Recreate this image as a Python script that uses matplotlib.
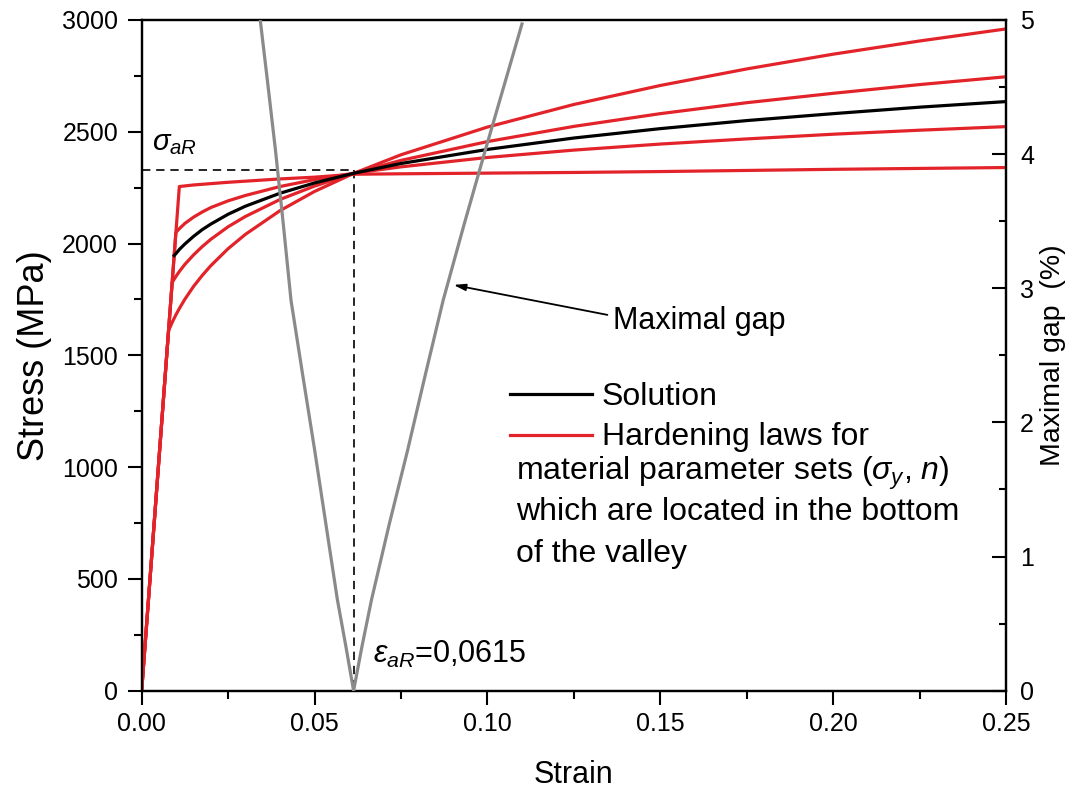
import matplotlib
matplotlib.use("Agg")
import matplotlib.pyplot as plt
from matplotlib.lines import Line2D

plt.rcParams['font.family'] = ['Liberation Sans', 'DejaVu Sans']
plt.rcParams['mathtext.fontset'] = 'custom'
plt.rcParams['mathtext.rm'] = 'Liberation Sans'
plt.rcParams['mathtext.it'] = 'Liberation Sans:italic'
plt.rcParams['mathtext.bf'] = 'Liberation Sans:bold'

# ---------------- data ----------------
strain_top = [0, 0.00778, 0.009, 0.01, 0.011, 0.0125, 0.015, 0.0175, 0.02, 0.025, 0.03, 0.04, 0.05,
              0.0615, 0.075, 0.1, 0.125, 0.15, 0.175, 0.2, 0.225, 0.25]
stress_top = [0, 1611, 1653, 1684, 1712, 1751, 1808, 1857, 1901, 1977, 2041, 2147, 2233,
              2315, 2397, 2521, 2622, 2707, 2781, 2847, 2906, 2960]

strain_h2 = [0, 0.00882, 0.01, 0.011, 0.0125, 0.015, 0.0175, 0.02, 0.025, 0.03, 0.04, 0.05,
             0.0615, 0.075, 0.1, 0.125, 0.15, 0.175, 0.2, 0.225, 0.25]
stress_h2 = [0, 1826, 1855, 1877, 1907, 1949, 1986, 2019, 2075, 2121, 2197, 2257,
             2315, 2372, 2456, 2524, 2581, 2630, 2672, 2711, 2746]

strain_h3 = [0, 0.0099, 0.011, 0.0125, 0.015, 0.0175, 0.02, 0.025, 0.03, 0.04, 0.05,
             0.0615, 0.075, 0.1, 0.125, 0.15, 0.175, 0.2, 0.225, 0.25]
stress_h3 = [0, 2050, 2068, 2090, 2118, 2141, 2161, 2191, 2215, 2255, 2286,
             2315, 2343, 2385, 2418, 2445, 2468, 2489, 2507, 2523]

strain_h4 = [0, 0.0109, 0.015, 0.02, 0.025, 0.03, 0.04, 0.05,
             0.0615, 0.075, 0.1, 0.125, 0.15, 0.175, 0.2, 0.225, 0.25]
stress_h4 = [0, 2255, 2262, 2268, 2274, 2279, 2289, 2297,
             2310, 2312, 2315, 2318, 2322, 2327, 2332, 2336, 2340]

strain_sol = [0.0094, 0.011, 0.0125, 0.015, 0.0175, 0.02, 0.025, 0.03, 0.04, 0.05,
              0.0615, 0.075, 0.1, 0.125, 0.15, 0.175, 0.2, 0.225, 0.25]
stress_sol = [1946, 1975, 1998, 2032, 2062, 2087, 2131, 2167, 2225, 2271,
              2315, 2358, 2421, 2472, 2514, 2550, 2581, 2610, 2635]

gap_left_strain = [0.0343, 0.0365, 0.0387, 0.0410, 0.0432, 0.0466, 0.0500, 0.0533, 0.0566, 0.0590, 0.0613]
gap_left = [5.0, 4.52, 4.03, 3.47, 2.91, 2.35, 1.80, 1.24, 0.68, 0.34, 0.0]
gap_right_strain = [0.0613, 0.0638, 0.0665, 0.0716, 0.0769, 0.0820, 0.0872, 0.0932, 0.0994, 0.1047, 0.1100]
gap_right = [0.0, 0.34, 0.68, 1.24, 1.79, 2.35, 2.91, 3.47, 4.03, 4.50, 4.97]

eps_aR = 0.0615
sigma_aR = 2330

red = '#e3232a'
gray = '#8a8a8a'

fig = plt.figure(figsize=(10.83, 7.96), dpi=100)
ax = fig.add_axes([0.1308, 0.1323, 0.9289 - 0.1308, 0.9749 - 0.1323])

for s, v in [(strain_top, stress_top), (strain_h2, stress_h2),
             (strain_h3, stress_h3), (strain_h4, stress_h4)]:
    ax.plot(s, v, color=red, lw=2.3, solid_joinstyle='round', zorder=3)
ax.plot(strain_sol, stress_sol, color='black', lw=2.3, solid_joinstyle='round', zorder=4)

# dashed reference lines
ax.plot([0, eps_aR], [sigma_aR, sigma_aR], color='black', lw=1.2,
        linestyle=(0, (5, 3.5)), zorder=2)
ax.plot([eps_aR, eps_aR], [sigma_aR, 0], color='black', lw=1.2,
        linestyle=(0, (5, 3.5)), zorder=2)

ax.set_xlim(0, 0.25)
ax.set_ylim(0, 3000)
ax.set_xticks([0, 0.05, 0.10, 0.15, 0.20, 0.25])
ax.set_xticklabels(['0.00', '0.05', '0.10', '0.15', '0.20', '0.25'])
ax.set_xticks([0.025, 0.075, 0.125, 0.175, 0.225], minor=True)
ax.set_yticks([0, 500, 1000, 1500, 2000, 2500, 3000])
ax.set_yticks([250, 750, 1250, 1750, 2250, 2750], minor=True)
ax.tick_params(axis='both', which='major', direction='out', length=10, width=1.5,
               labelsize=18, pad=6)
ax.tick_params(axis='both', which='minor', direction='out', length=6, width=1.5)
ax.tick_params(axis='x', which='major', pad=5)
ax.tick_params(axis='y', which='major', pad=7)
for sp in ax.spines.values():
    sp.set_linewidth(1.6)

ax.set_xlabel('Strain', fontsize=22)
ax.xaxis.set_label_coords(0.5, -0.103)
ax.set_ylabel('Stress (MPa)', fontsize=26)
ax.yaxis.set_label_coords(-0.104, 0.5)

# right axis: maximal gap
ax2 = ax.twinx()
ax2.plot(gap_left_strain, gap_left, color=gray, lw=2.3, solid_joinstyle='round', zorder=3)
ax2.plot(gap_right_strain, gap_right, color=gray, lw=2.3, solid_joinstyle='round', zorder=3)
ax2.set_ylim(0, 5)
ax2.set_yticks([0, 1, 2, 3, 4, 5])
ax2.set_yticks([0.5, 1.5, 2.5, 3.5, 4.5], minor=True)
ax2.tick_params(axis='y', which='major', direction='in', length=10, width=1.5,
                labelsize=18, pad=10)
ax2.tick_params(axis='y', which='minor', direction='in', length=5, width=1.5)
for sp in ax2.spines.values():
    sp.set_linewidth(1.6)
ax2.set_ylabel('Maximal gap  (%)', fontsize=20.5)
ax2.yaxis.set_label_coords(1.039, 0.5)

# annotations
ax.text(0.003, 2449, r'$\sigma_{aR}$', fontsize=21, ha='left', va='center')
ax.text(0.067, 124, r'$\varepsilon_{aR}$=0,0615', fontsize=22, ha='left', va='baseline')

ax.annotate('', xy=(0.0902, 1815), xytext=(0.1347, 1681),
            arrowprops=dict(arrowstyle='-|>,head_length=0.7,head_width=0.2',
                            color='black', lw=1.3, shrinkA=0, shrinkB=0))
ax.text(0.1362, 1653, 'Maximal gap', fontsize=22, ha='left', va='center')

# legend (manual)
leg_fs = 23
ax.add_line(Line2D([0.4261, 0.5207], [0.4424, 0.4424], transform=ax.transAxes,
                   color='black', lw=2.3))
ax.add_line(Line2D([0.4261, 0.5207], [0.3812, 0.3812], transform=ax.transAxes,
                   color=red, lw=2.3))
ax.text(0.5322, 0.4260, 'Solution', transform=ax.transAxes, fontsize=leg_fs,
        ha='left', va='baseline')
ax.text(0.5322, 0.3663, 'Hardening laws for', transform=ax.transAxes, fontsize=leg_fs,
        ha='left', va='baseline')
ax.text(0.4330, 0.3142, r'material parameter sets ($\sigma_y$, $n$)',
        transform=ax.transAxes, fontsize=leg_fs, ha='left', va='baseline')
ax.text(0.4330, 0.2545, 'which are located in the bottom',
        transform=ax.transAxes, fontsize=leg_fs, ha='left', va='baseline')
ax.text(0.4330, 0.1919, 'of the valley',
        transform=ax.transAxes, fontsize=leg_fs, ha='left', va='baseline')

fig.savefig('out.png', dpi=100)
